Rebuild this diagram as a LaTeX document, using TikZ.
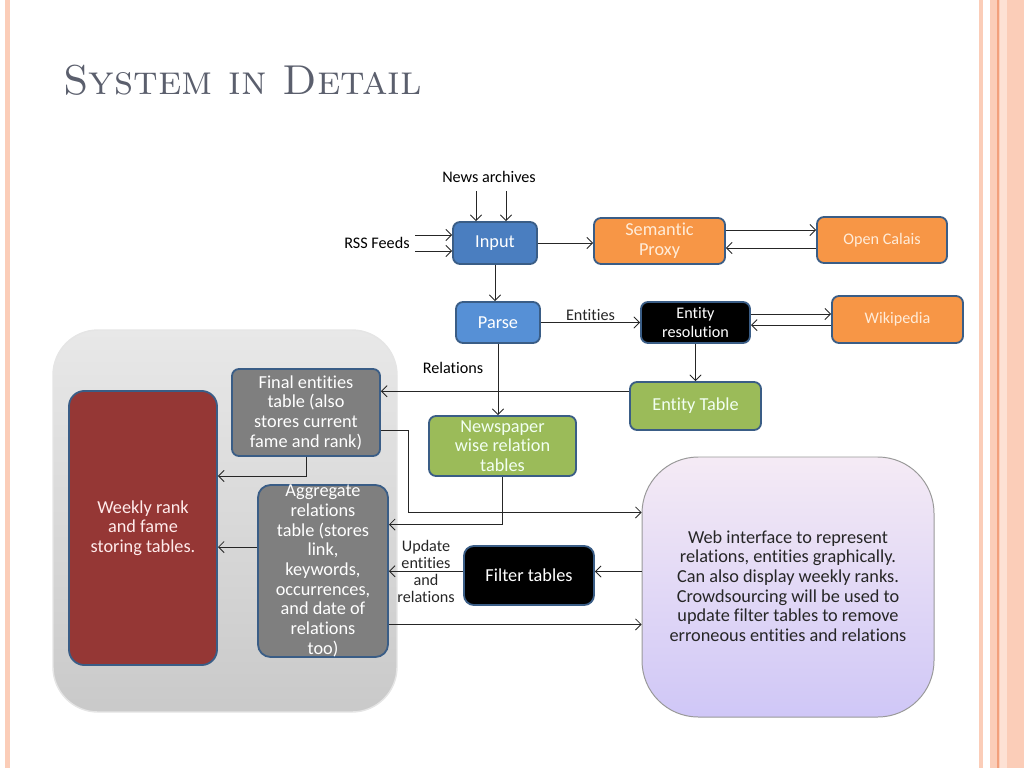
\documentclass[tikz,border=0pt]{standalone}
\usepackage{fontspec}
\newfontfamily\calibri[Ligatures=NoCommon]{Carlito}
\usepackage{xcolor}
\usepackage{tikz}
\usetikzlibrary{arrows.meta}

\definecolor{edgeblue}{HTML}{3A5D86}
\definecolor{inblue}{HTML}{4A7EC0}
\definecolor{parseblue}{HTML}{5690D6}
\definecolor{orangebox}{HTML}{F79646}
\definecolor{greenbox}{HTML}{9BBB59}
\definecolor{graybox}{HTML}{7F7F7F}
\definecolor{redbox}{HTML}{953735}
\definecolor{titlegray}{HTML}{5B5F6D}
\definecolor{slidepink}{HTML}{FBCDB8}
\definecolor{slideline}{HTML}{F2A07C}

\begin{document}
\begin{tikzpicture}[x=0.025cm,y=-0.025cm,>={Straight Barb[length=4pt,width=8pt]},
    box/.style={draw=edgeblue,line width=1.3pt,rounded corners=5pt,inner sep=1pt,align=center,
                font=\calibri\fontsize{13}{14}\selectfont},
    lbl/.style={font=\calibri\fontsize{11.5}{12.2}\selectfont,align=center,inner sep=1pt},
    link/.style={->,line width=0.6pt,black!85}]
    \useasboundingbox (0,0) rectangle (1024,768);

    % slide frame
    \fill[slidepink] (5,0) rectangle (10,768);
    \fill[slidepink] (979,0) rectangle (983,768);
    \fill[slidepink] (990,0) rectangle (1024,768);
    \draw[slideline,line width=0.8pt] (998,0) -- (998,768);
    \fill[slidepink!60] (1000,0) rectangle (1007,768);

    \node[font=\fontsize{29.7}{34}\selectfont\scshape,text=titlegray,anchor=base west,inner sep=0pt] (title) at (63,95) {System in Detail};

    % storage group
    \draw[white!80!gray,line width=1pt,rounded corners=32pt,top color=gray!18,bottom color=gray!42] (53,330) rectangle (397,712);
    \draw[rounded corners=40pt,draw=gray!80,line width=0.7pt,top color=violet!8,bottom color=violet!30!blue!22] (642,457) rectangle (934,717);
    \node[font=\calibri\fontsize{13}{14}\selectfont,align=center,text=black!85] (web) at (788,586) {Web interface to represent\\relations, entities graphically.\\Can also display weekly ranks.\\Crowdsourcing will be used to\\update filter tables to remove\\erroneous entities and relations};

    \node[box,fill=inblue,text=white,minimum width=2.1cm,minimum height=1.05cm] (input) at (495,243) {Input};
    \node[box,fill=orangebox,text=orange!15,minimum width=3.275cm,minimum height=1.15cm] (proxy) at (659.5,241) {Semantic\\Proxy};
    \node[box,fill=orangebox,text=orange!15,minimum width=3.25cm,minimum height=1.15cm,font=\calibri\fontsize{11.5}{13}\selectfont] (calais) at (882,240) {Open Calais};
    \node[box,fill=parseblue,text=white,minimum width=2.1cm,minimum height=1.025cm] (parse) at (498,322.5) {Parse};
    \node[box,fill=black,text=white,minimum width=2.725cm,minimum height=1.025cm,font=\calibri\fontsize{11.5}{13}\selectfont] (resolve) at (695.5,322.5) {Entity\\resolution};
    \node[box,fill=orangebox,text=orange!15,minimum width=3.275cm,minimum height=1.175cm,font=\calibri\fontsize{11.5}{13}\selectfont] (wiki) at (897.5,319.5) {Wikipedia};
    \node[box,fill=greenbox,text=green!5,minimum width=3.275cm,minimum height=1.2cm] (enttable) at (695.5,406) {Entity Table};
    \node[box,fill=greenbox,text=green!5,minimum width=3.675cm,minimum height=1.5cm,inner sep=0pt] (news) at (502.5,446) {Newspaper\\wise relation\\tables};
    \node[box,fill=graybox,text=white,minimum width=3.7cm,minimum height=2.175cm] (final) at (306,412.5) {Final entities\\table (also\\stores current\\fame and rank)};
    \node[box,fill=graybox,text=white,minimum width=3.25cm,minimum height=4.3cm,inner sep=0pt,rounded corners=9pt] (aggr) at (323,571) {Aggregate\\relations\\table (stores\\link,\\keywords,\\occurrences,\\and date of\\relations\\too)};
    \node[box,fill=redbox,text=red!8,minimum width=3.7cm,minimum height=6.85cm,rounded corners=11pt] (weekly) at (143,528) {Weekly rank\\and fame\\storing tables.};
    \node[box,fill=black,text=white,minimum width=3.25cm,minimum height=1.475cm,rounded corners=7pt] (filter) at (529,575.5) {Filter tables};
    \node[draw=none,minimum width=7.3cm,minimum height=6.5cm,inner sep=0pt] (webbox) at (788,587) {};

    % inputs
    \node[lbl] (archives) at (489,177) {News archives};
    \node[lbl] (rss) at (377,243) {RSS Feeds};
    \coordinate (na1) at (476,191);
    \coordinate (na2) at (506,191);
    \coordinate (rss1) at (415,235);
    \coordinate (rss2) at (415,251);
    \draw[link] (na1) -- (na1 |- input.north);
    \draw[link] (na2) -- (na2 |- input.north);
    \draw[link] (rss1) -- (rss1 -| input.west);
    \draw[link] (rss2) -- (rss2 -| input.west);

    \draw[link] (input.east) -- (input.east -| proxy.west);
    \draw[link] ([yshift=7.8pt]proxy.east) -- ([yshift=7.8pt]proxy.east -| calais.west);
    \draw[link] ([yshift=-5.7pt]calais.west) -- ([yshift=-5.7pt]calais.west -| proxy.east);
    \draw[link] (input.south) -- (input.south |- parse.north);
    \draw[link] (parse.east) -- node[lbl,above] {Entities} (parse.east -| resolve.west);
    \draw[link] ([yshift=6pt]resolve.east) -- ([yshift=6pt]resolve.east -| wiki.west);
    \draw[link] ([yshift=-4pt]wiki.west) -- ([yshift=-4pt]wiki.west -| resolve.east);
    \draw[link] (resolve.south) -- (resolve.south |- enttable.north);
    \draw[link] (parse.south) -- (parse.south |- news.north);
    \node[lbl] (rel) at (453,368) {Relations};

    % tables
    \draw[link] ([yshift=10.5pt]enttable.west) -- ([yshift=10.5pt]enttable.west -| final.east);
    \draw[link] (news.south) |- ([yshift=33pt]aggr.east);
    \draw[link] ([yshift=-12.4pt]final.east) -- ++(27,0) |- ([yshift=53pt]webbox.west);
    \draw[link] (final.south) |- ([yshift=37pt]weekly.east);
    \draw[link] ([yshift=17pt]aggr.west) -- ([yshift=17pt]aggr.west -| weekly.east);
    \draw[link] ([yshift=11pt]webbox.west) -- ([yshift=11pt]webbox.west -| filter.east);
    \draw[link] ([yshift=3pt]filter.west) -- node[lbl] {Update\\entities\\and\\relations} ([yshift=3pt]filter.west -| aggr.east);
    \draw[link] ([yshift=-38pt]aggr.east) -- ([yshift=-38pt]aggr.east -| webbox.west);
\end{tikzpicture}
\end{document}
